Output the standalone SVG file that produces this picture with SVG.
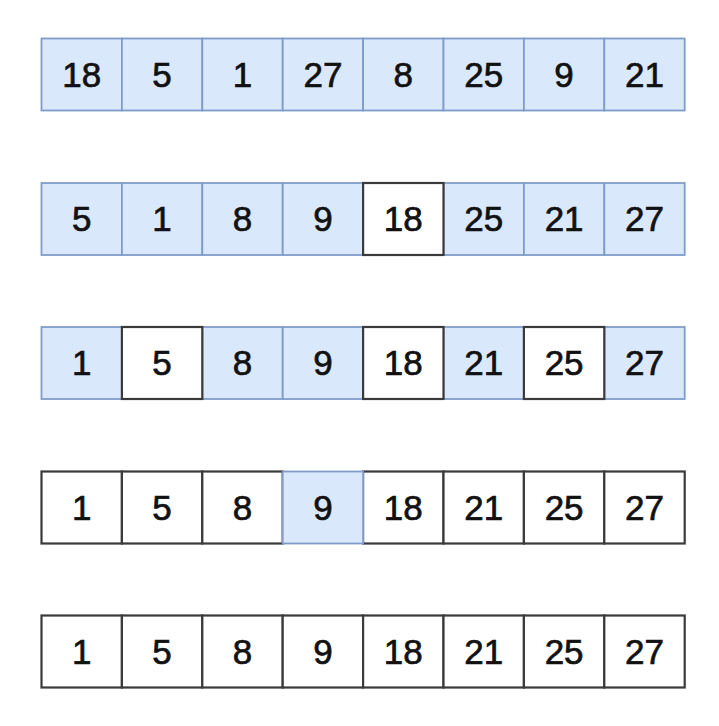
<svg xmlns="http://www.w3.org/2000/svg" width="719" height="726" viewBox="0 0 719 726">
<style>
.b{fill:#dae8fc;stroke:#7f9cc9;stroke-width:1.8}
.w{fill:#ffffff;stroke:#3a3a3a;stroke-width:2.2}
text{font-family:"Liberation Sans",Arial,sans-serif;font-size:35px;fill:#111111;stroke:#111111;stroke-width:0.7;text-anchor:middle}
</style>
<rect width="719" height="726" fill="#ffffff"/>
<g id="row1">
<g id="r1c1"><rect class="b" x="41.5" y="38.5" width="80.4" height="72"/><text x="81.7" y="86.5">18</text></g>
<g id="r1c2"><rect class="b" x="121.9" y="38.5" width="80.4" height="72"/><text x="162.1" y="86.5">5</text></g>
<g id="r1c3"><rect class="b" x="202.3" y="38.5" width="80.4" height="72"/><text x="242.5" y="86.5">1</text></g>
<g id="r1c4"><rect class="b" x="282.7" y="38.5" width="80.4" height="72"/><text x="322.9" y="86.5">27</text></g>
<g id="r1c5"><rect class="b" x="363.1" y="38.5" width="80.4" height="72"/><text x="403.3" y="86.5">8</text></g>
<g id="r1c6"><rect class="b" x="443.5" y="38.5" width="80.4" height="72"/><text x="483.7" y="86.5">25</text></g>
<g id="r1c7"><rect class="b" x="523.9" y="38.5" width="80.4" height="72"/><text x="564.1" y="86.5">9</text></g>
<g id="r1c8"><rect class="b" x="604.3" y="38.5" width="80.4" height="72"/><text x="644.5" y="86.5">21</text></g>
</g>
<g id="row2">
<g id="r2c1"><rect class="b" x="41.5" y="183" width="80.4" height="72"/><text x="81.7" y="231">5</text></g>
<g id="r2c2"><rect class="b" x="121.9" y="183" width="80.4" height="72"/><text x="162.1" y="231">1</text></g>
<g id="r2c3"><rect class="b" x="202.3" y="183" width="80.4" height="72"/><text x="242.5" y="231">8</text></g>
<g id="r2c4"><rect class="b" x="282.7" y="183" width="80.4" height="72"/><text x="322.9" y="231">9</text></g>
<g id="r2c6"><rect class="b" x="443.5" y="183" width="80.4" height="72"/><text x="483.7" y="231">25</text></g>
<g id="r2c7"><rect class="b" x="523.9" y="183" width="80.4" height="72"/><text x="564.1" y="231">21</text></g>
<g id="r2c8"><rect class="b" x="604.3" y="183" width="80.4" height="72"/><text x="644.5" y="231">27</text></g>
<g id="r2c5"><rect class="w" x="363.1" y="183" width="80.4" height="72"/><text x="403.3" y="231">18</text></g>
</g>
<g id="row3">
<g id="r3c1"><rect class="b" x="41.5" y="327" width="80.4" height="72"/><text x="81.7" y="375">1</text></g>
<g id="r3c3"><rect class="b" x="202.3" y="327" width="80.4" height="72"/><text x="242.5" y="375">8</text></g>
<g id="r3c4"><rect class="b" x="282.7" y="327" width="80.4" height="72"/><text x="322.9" y="375">9</text></g>
<g id="r3c6"><rect class="b" x="443.5" y="327" width="80.4" height="72"/><text x="483.7" y="375">21</text></g>
<g id="r3c8"><rect class="b" x="604.3" y="327" width="80.4" height="72"/><text x="644.5" y="375">27</text></g>
<g id="r3c2"><rect class="w" x="121.9" y="327" width="80.4" height="72"/><text x="162.1" y="375">5</text></g>
<g id="r3c5"><rect class="w" x="363.1" y="327" width="80.4" height="72"/><text x="403.3" y="375">18</text></g>
<g id="r3c7"><rect class="w" x="523.9" y="327" width="80.4" height="72"/><text x="564.1" y="375">25</text></g>
</g>
<g id="row4">
<g id="r4c1"><rect class="w" x="41.5" y="471.5" width="80.4" height="72"/><text x="81.7" y="519.5">1</text></g>
<g id="r4c2"><rect class="w" x="121.9" y="471.5" width="80.4" height="72"/><text x="162.1" y="519.5">5</text></g>
<g id="r4c3"><rect class="w" x="202.3" y="471.5" width="80.4" height="72"/><text x="242.5" y="519.5">8</text></g>
<g id="r4c5"><rect class="w" x="363.1" y="471.5" width="80.4" height="72"/><text x="403.3" y="519.5">18</text></g>
<g id="r4c6"><rect class="w" x="443.5" y="471.5" width="80.4" height="72"/><text x="483.7" y="519.5">21</text></g>
<g id="r4c7"><rect class="w" x="523.9" y="471.5" width="80.4" height="72"/><text x="564.1" y="519.5">25</text></g>
<g id="r4c8"><rect class="w" x="604.3" y="471.5" width="80.4" height="72"/><text x="644.5" y="519.5">27</text></g>
<g id="r4c4"><rect class="b" x="282.7" y="471.5" width="80.4" height="72"/><text x="322.9" y="519.5">9</text></g>
</g>
<g id="row5">
<g id="r5c1"><rect class="w" x="41.5" y="615.5" width="80.4" height="72"/><text x="81.7" y="663.5">1</text></g>
<g id="r5c2"><rect class="w" x="121.9" y="615.5" width="80.4" height="72"/><text x="162.1" y="663.5">5</text></g>
<g id="r5c3"><rect class="w" x="202.3" y="615.5" width="80.4" height="72"/><text x="242.5" y="663.5">8</text></g>
<g id="r5c4"><rect class="w" x="282.7" y="615.5" width="80.4" height="72"/><text x="322.9" y="663.5">9</text></g>
<g id="r5c5"><rect class="w" x="363.1" y="615.5" width="80.4" height="72"/><text x="403.3" y="663.5">18</text></g>
<g id="r5c6"><rect class="w" x="443.5" y="615.5" width="80.4" height="72"/><text x="483.7" y="663.5">21</text></g>
<g id="r5c7"><rect class="w" x="523.9" y="615.5" width="80.4" height="72"/><text x="564.1" y="663.5">25</text></g>
<g id="r5c8"><rect class="w" x="604.3" y="615.5" width="80.4" height="72"/><text x="644.5" y="663.5">27</text></g>
</g>
<g id="connectors"/>
</svg>
